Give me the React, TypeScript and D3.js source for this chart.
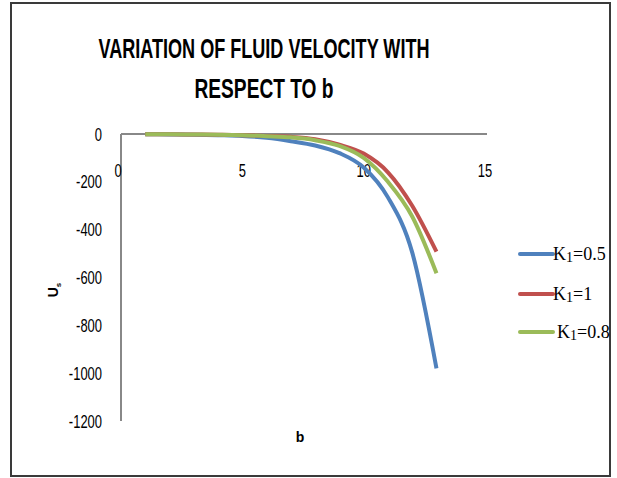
import React from 'react';
import * as d3 from 'd3';

const bValues = [1, 2, 3, 4, 5, 6, 7, 8, 9, 10, 11, 12, 13];
const k05 = [-1, -2, -3, -5, -8, -16, -30, -48, -80, -140, -265, -495, -980];
const k1 = [-1, -1, -2, -3, -5, -8, -12, -22, -45, -82, -160, -300, -492];
const k08 = [-1, -1, -2, -3, -5, -9, -14, -26, -50, -100, -200, -345, -582];
const seriesNames = ['0.5', '1', '0.8'];
const seriesColors = ['#4F81BD', '#C0504D', '#9BBB59'];
const xTicks = [0, 5, 10, 15];
const yTicks = [0, -200, -400, -600, -800, -1000, -1200];

const W = 617;
const H = 478;

const App = () => {
  const x = d3.scaleLinear().domain([0, 15]).range([121, 485]);
  const y = d3.scaleLinear().domain([-1200, 0]).range([421, 134]);

  const line = d3
    .line<number>()
    .x((_, i) => x(bValues[i]))
    .y(d => y(d))
    .curve(d3.curveMonotoneX);

  const series = [k05, k1, k08];
  const legendY = [254, 294, 332];

  return (
    <svg
      width={W}
      height={H}
      style={{ position: 'absolute', left: 0, top: 0 }}
      fontFamily="'Liberation Sans', Arial, sans-serif"
    >
      <rect x={0} y={0} width={W} height={H} fill="#fff" />
      {/* chart frame */}
      <rect x={11} y={3} width={599} height={473} fill="none" stroke="#3a3a3a" strokeWidth={2} />

      {/* title */}
      <text x={264} y={58} textAnchor="middle" fontSize={27} fontWeight="bold" textLength={331} lengthAdjust="spacingAndGlyphs">
        VARIATION OF FLUID VELOCITY WITH
      </text>
      <text x={264} y={98} textAnchor="middle" fontSize={27} fontWeight="bold" textLength={139} lengthAdjust="spacingAndGlyphs">
        RESPECT TO b
      </text>

      {/* axes */}
      <line x1={x(0)} x2={487} y1={y(0)} y2={y(0)} stroke="#888" strokeWidth={2} />
      <line x1={x(0)} x2={x(0)} y1={y(0)} y2={y(-1200)} stroke="#888" strokeWidth={2} />

      {yTicks.map(t => (
        <g key={t} transform={`translate(102,${y(t) + 6.5}) scale(0.72,1)`}>
          <text textAnchor="end" fontSize={18} fill="#000">{t}</text>
        </g>
      ))}
      {xTicks.map(t => (
        <g key={t} transform={`translate(${x(t) - (t === 0 ? 3 : 0)},${176.5}) scale(0.72,1)`}>
          <text textAnchor="middle" fontSize={18} fill="#000">{t}</text>
        </g>
      ))}

      {/* axis titles */}
      <text x={300} y={442} textAnchor="middle" fontSize={14} fontWeight="bold">b</text>
      <g transform="translate(58,290) rotate(-90)">
        <text textAnchor="middle" fontSize={14} fontWeight="bold">
          U<tspan fontSize={8} dy={3}>s</tspan>
        </text>
      </g>

      {/* series */}
      {series.map((s, i) => (
        <path key={i} d={line(s) || ''} fill="none" stroke={seriesColors[i]} strokeWidth={4} strokeLinejoin="round" />
      ))}

      {/* legend */}
      {seriesNames.map((n, i) => (
        <g key={n}>
          <line x1={520} x2={553} y1={legendY[i]} y2={legendY[i]} stroke={seriesColors[i]} strokeWidth={4} strokeLinecap="round" />
          <text
            x={i === 2 ? 557 : 553}
            y={legendY[i] + 6}
            fontFamily="'Liberation Serif', 'Times New Roman', serif"
            fontSize={18}
          >
            K<tspan fontSize={14} dy={2}>1</tspan><tspan dy={-2}>={n}</tspan>
          </text>
        </g>
      ))}
    </svg>
  );
};

export default App;
